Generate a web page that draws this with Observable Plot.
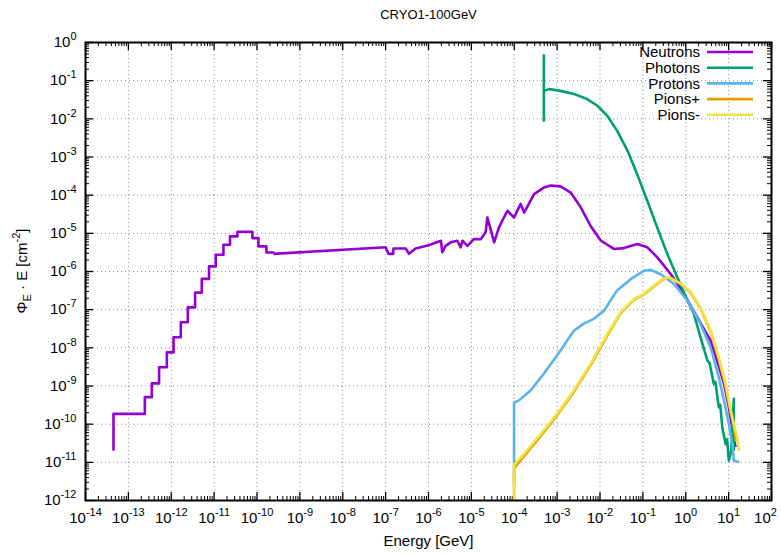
<!DOCTYPE html>
<html><head><meta charset="utf-8">
<script src="https://cdn.jsdelivr.net/npm/d3@7"></script>
<script src="https://cdn.jsdelivr.net/npm/@observablehq/plot@0.6"></script>
<style>
html,body{margin:0;padding:0;background:#fff;}
#chart{width:781px;height:555px;overflow:hidden;}
</style></head><body><div id="chart"></div>
<script>
// ---- data ----
const title = "CRYO1-100GeV";
const xLabel = "Energy [GeV]";
const seriesNames = ["Neutrons", "Photons", "Protons", "Pions+", "Pions-"];
const seriesColors = ["#9400d3", "#009e73", "#56b4e9", "#e69f00", "#f0e442"];

const xExponents = [-14,-13,-12,-11,-10,-9,-8,-7,-6,-5,-4,-3,-2,-1,0,1,2];
const yExponents = [-12,-11,-10,-9,-8,-7,-6,-5,-4,-3,-2,-1,0];

// neutrons: low-energy histogram part (bin lower edges, values)
const neutronStepE = [4.5e-14, 4.5e-14, 2.42e-13, 3.52e-13, 5.2e-13, 7.9e-13, 1.13e-12, 1.67e-12, 2.43e-12, 3.6e-12, 5.15e-12, 7.6e-12, 1.09e-11, 1.65e-11, 2.35e-11, 3.5e-11, 7.8e-11, 1.08e-10, 1.66e-10, 2.42e-10];
const neutronStepV = [2.0e-11, 1.86e-10, 5.1e-10, 1.17e-9, 3.1e-9, 7.6e-9, 1.9e-8, 4.7e-8, 1.15e-7, 2.8e-7, 6.4e-7, 1.36e-6, 2.75e-6, 5.0e-6, 8.3e-6, 1.1e-5, 7.5e-6, 4.55e-6, 3.15e-6, 2.9e-6];
// neutrons: continuous part
const neutronE = [2.42e-10, 1.0e-7, 1.16e-7, 1.5e-7, 1.52e-7, 2.95e-7, 3.5e-7, 5.0e-7, 1.0e-6, 1.95e-6, 2.1e-6, 2.5e-6, 3.3e-6, 4.7e-6, 5.6e-6, 6.2e-6, 8.1e-6, 1.15e-5, 1.66e-5, 2.15e-5, 2.36e-5, 3.4e-5, 4.4e-5, 6.9e-5, 9.9e-5, 1.41e-4, 1.7e-4, 2.9e-4, 4.9e-4, 7.1e-4, 1.2e-3, 2.07e-3, 3.55e-3, 6.0e-3, 1.04e-2, 2.1e-2, 3.6e-2, 7.4e-2, 1.27e-1, 2.17e-1, 4.5e-1, 7.8e-1, 1.86, 3.8, 5.4, 7.8, 10.1, 13.2, 14.5];
const neutronV = [2.9e-6, 4.3e-6, 2.9e-6, 2.9e-6, 4.0e-6, 4.0e-6, 2.9e-6, 4.0e-6, 4.9e-6, 6.4e-6, 3.2e-6, 4.7e-6, 5.8e-6, 6.4e-6, 4.3e-6, 6.4e-6, 4.7e-6, 7.1e-6, 7.0e-6, 1.06e-5, 2.6e-5, 5.8e-6, 1.43e-5, 3.9e-5, 2.6e-5, 5.9e-5, 3.5e-5, 1.07e-4, 1.58e-4, 1.8e-4, 1.7e-4, 1.17e-4, 4.8e-5, 1.58e-5, 6.5e-6, 3.9e-6, 4.1e-6, 5.25e-6, 4.3e-6, 2.35e-6, 8.5e-7, 3.5e-7, 6.3e-8, 1.55e-8, 4.6e-9, 1.14e-9, 2.8e-10, 4.6e-11, 2.5e-11];

const photonE = [4.9e-4, 4.9e-4, 4.9e-4, 6.5e-4, 1.2e-3, 2.45e-3, 5.0e-3, 8.7e-3, 1.48e-2, 2.5e-2, 4.4e-2, 7.4e-2, 1.27e-1, 2.17e-1, 3.7e-1, 6.35e-1, 1.09, 1.55, 2.2, 3.2, 3.6, 4.5, 4.9, 5.9, 6.4, 7.1, 8.5, 9.2, 10.1, 11.5, 13.2, 13.2];
const photonV = [0.49, 8.9e-3, 5.4e-2, 6.0e-2, 5.4e-2, 4.5e-2, 3.3e-2, 2.2e-2, 1.2e-2, 4.9e-3, 1.45e-3, 3.5e-4, 7.1e-5, 1.41e-5, 2.9e-6, 7.1e-7, 1.74e-7, 7.8e-8, 1.9e-8, 4.6e-9, 4.0e-9, 1.14e-9, 1.3e-9, 2.75e-10, 3.2e-10, 8.3e-11, 3.0e-11, 4.0e-11, 1.12e-11, 2.0e-11, 4.6e-10, 2.0e-11];

const protonE = [9.9e-5, 9.9e-5, 1.29e-4, 2.4e-4, 4.9e-4, 1.2e-3, 2.45e-3, 4.2e-3, 7.2e-3, 1.23e-2, 2.5e-2, 5.2e-2, 1.06e-1, 1.5e-1, 2.6e-1, 5.3e-1, 1.09, 2.2, 3.8, 5.9, 7.8, 10.1, 12.2, 13.2, 17.8];
const protonV = [2.5e-12, 3.7e-10, 4.2e-10, 7.6e-10, 2.1e-9, 8.5e-9, 2.8e-8, 4.3e-8, 5.75e-8, 9.3e-8, 3.2e-7, 6.3e-7, 1.05e-6, 1.1e-6, 8.5e-7, 4.7e-7, 1.74e-7, 4.3e-8, 1.02e-8, 1.7e-9, 4.2e-10, 1.02e-10, 3.0e-11, 1.12e-11, 1.0e-11];

const pionPlusE = [9.9e-5, 9.9e-5, 1.7e-4, 4.2e-4, 1.0e-3, 2.45e-3, 6.0e-3, 1.48e-2, 3.0e-2, 6.2e-2, 1.06e-1, 1.82e-1, 2.84e-1, 4.1e-1, 7.8e-1, 1.32, 2.2, 3.8, 5.9, 8.5, 11.2, 13.2, 15.0];
const pionPlusV = [1.0e-12, 7.0e-12, 1.45e-11, 5.0e-11, 1.7e-10, 7.0e-10, 3.5e-9, 2.1e-8, 8.0e-8, 1.8e-7, 2.5e-7, 4.1e-7, 6.1e-7, 7.0e-7, 4.8e-7, 2.7e-7, 1.1e-7, 2.6e-8, 5.0e-9, 1.0e-9, 2.0e-10, 9.0e-11, 3.5e-11];

const pionMinusE = [9.9e-5, 9.9e-5, 1.7e-4, 4.2e-4, 1.0e-3, 2.45e-3, 6.0e-3, 1.48e-2, 3.0e-2, 6.2e-2, 1.06e-1, 1.82e-1, 2.84e-1, 4.1e-1, 7.8e-1, 1.32, 2.2, 3.8, 5.9, 8.5, 11.2, 13.2, 15.8, 17.4];
const pionMinusV = [1.0e-12, 8.7e-12, 1.66e-11, 5.6e-11, 1.86e-10, 7.6e-10, 3.8e-9, 2.3e-8, 8.5e-8, 1.9e-7, 2.6e-7, 4.3e-7, 6.3e-7, 7.1e-7, 4.7e-7, 2.8e-7, 1.15e-7, 2.8e-8, 5.6e-9, 1.14e-9, 2.3e-10, 1.02e-10, 4.6e-11, 2.0e-11];

// ---- build ----
const W = 781, H = 555, mL = 85, mR = 10, mT = 42, mB = 55;
const frameH = H - mT - mB;
const frameW = W - mL - mR;
const FONT = "'Liberation Sans', Arial, Helvetica, sans-serif";

const zip = (E, V) => E.map((e, i) => ({E: e, V: V[i]}));
const xTicks = xExponents.map(e => Math.pow(10, e));
const yTicks = yExponents.map(e => Math.pow(10, e));
const minorOf = (ticks) => ticks.slice(0, -1).flatMap(t => [2,3,4,5,6,7,8,9].map(k => k * t));
const xMinor = minorOf(xTicks);
const yMinor = minorOf(yTicks);

const lineOpts = (i) => ({x: "E", y: "V", stroke: seriesColors[i], strokeWidth: 2.6, strokeLinejoin: "round", strokeLinecap: "butt"});
const grid = {stroke: "#8a8a8a", strokeOpacity: 1, strokeWidth: 1, strokeDasharray: "1,3"};

const plot = Plot.plot({
  width: W, height: H,
  marginLeft: mL, marginRight: mR, marginTop: mT, marginBottom: mB,
  style: {fontFamily: FONT, fontSize: "15px", background: "transparent", color: "#000", overflow: "visible"},
  x: {type: "log", domain: [1e-14, 1e2]},
  y: {type: "log", domain: [1e-12, 1]},
  marks: [
    Plot.gridX(xTicks.slice(1, -1), grid),
    Plot.gridY(yTicks.slice(1, -1), grid),
    // ticks (inward, mirrored)
    Plot.ruleX(xTicks, {stroke: "#000", strokeWidth: 1.3, insetTop: frameH - 8}),
    Plot.ruleX(xTicks, {stroke: "#000", strokeWidth: 1.3, insetBottom: frameH - 8}),
    Plot.ruleX(xMinor, {stroke: "#000", strokeWidth: 1, insetTop: frameH - 4}),
    Plot.ruleX(xMinor, {stroke: "#000", strokeWidth: 1, insetBottom: frameH - 4}),
    Plot.ruleY(yTicks, {stroke: "#000", strokeWidth: 1.3, insetRight: frameW - 8}),
    Plot.ruleY(yTicks, {stroke: "#000", strokeWidth: 1.3, insetLeft: frameW - 8}),
    Plot.ruleY(yMinor, {stroke: "#000", strokeWidth: 1, insetRight: frameW - 4}),
    Plot.ruleY(yMinor, {stroke: "#000", strokeWidth: 1, insetLeft: frameW - 4}),
    // series
    Plot.line(zip(neutronStepE, neutronStepV), {...lineOpts(0), curve: "step-after"}),
    Plot.line(zip(neutronE, neutronV), lineOpts(0)),
    Plot.line(zip(photonE, photonV), lineOpts(1)),
    Plot.line(zip(protonE, protonV), lineOpts(2)),
    Plot.line(zip(pionPlusE, pionPlusV), lineOpts(3)),
    Plot.line(zip(pionMinusE, pionMinusV), lineOpts(4)),
    Plot.frame({stroke: "#000", strokeWidth: 2}),
    // axes
    Plot.axisX(xTicks, {tickSize: 0, tickPadding: 12, fontSize: 15, label: null,
      tickFormat: d => "10^" + Math.round(Math.log10(d))}),
    Plot.axisY(yTicks, {tickSize: 0, tickPadding: 9, fontSize: 15, label: null,
      tickFormat: d => "10^" + Math.round(Math.log10(d))}),
    Plot.text([xLabel], {frameAnchor: "bottom", dy: 45, fontSize: 15, fill: "#000"}),
    Plot.text([title], {frameAnchor: "top", dy: -33, fontSize: 13, fill: "#000"})
  ]
});

document.getElementById("chart").appendChild(plot);
const svg = d3.select(plot);

// superscript exponents in tick labels
svg.selectAll("text").each(function() {
  const t = d3.select(this);
  const s = this.textContent;
  const m = /^10\^(-?\d+)$/.exec(s);
  if (!m || this.querySelector("tspan")) return;
  t.text(null);
  t.append("tspan").text("10");
  t.append("tspan").attr("dy", "-7").attr("font-size", 11).text(m[1]);
  // keep the right-most x label inside the picture
  if (m[1] === "2") t.attr("dx", -6);
});

// y-axis label
const yl = svg.append("text")
  .attr("transform", `translate(27,${mT + frameH / 2}) rotate(-90)`)
  .attr("text-anchor", "middle")
  .attr("font-family", FONT).attr("font-size", 15).attr("fill", "#000");
yl.append("tspan").text("Φ");
yl.append("tspan").attr("dy", 4).attr("font-size", 11).text("E");
yl.append("tspan").attr("dy", -4).text(" · E [cm");
yl.append("tspan").attr("dy", -7).attr("font-size", 11).text("-2");
yl.append("tspan").attr("dy", 7).text("]");

// legend (top-right, inside the frame)
const lg = svg.append("g").attr("font-family", FONT).attr("font-size", 15);
seriesNames.forEach((name, i) => {
  const y = 52 + i * 15.7;
  lg.append("text").attr("x", 700).attr("y", y).attr("dy", "0.35em")
    .attr("text-anchor", "end").attr("fill", "#000").text(name);
  lg.append("line").attr("x1", 707).attr("x2", 753).attr("y1", y).attr("y2", y)
    .attr("stroke", seriesColors[i]).attr("stroke-width", 2.6);
});
</script>
</body></html>
